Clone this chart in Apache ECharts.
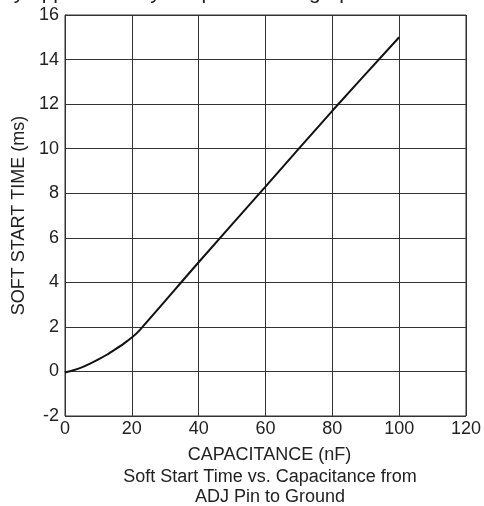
<!DOCTYPE html>
<html>
<head>
<meta charset="utf-8">
<script src="https://cdn.jsdelivr.net/npm/echarts@6/dist/echarts.min.js"></script>
<style>
  html, body { margin: 0; padding: 0; background: #fff; }
  #chart { width: 484px; height: 506px; }
</style>
</head>
<body>
<div id="chart"></div>
<script>
// capacitance (nF) vs soft start time (ms)
var capacitance = [0, 2.5, 5, 7.5, 10, 12.5, 15, 17.5, 20, 22.5, 40, 60, 80, 100];
var softStart = [-0.05, 0.05, 0.18, 0.35, 0.54, 0.75, 0.99, 1.24, 1.52, 1.88, 4.9, 8.3, 11.7, 15.0];
var xTitle = "CAPACITANCE (nF)";
var yTitle = "SOFT START TIME (ms)";
var caption = ["Soft Start Time vs. Capacitance from", "ADJ Pin to Ground"];
var topText = "by approximately 200pS/nF. The graph below shows";

var myChart = echarts.init(document.getElementById("chart"));
var font = "Liberation Sans, Arial, sans-serif";
var option;

option = {
  animation: false,
  backgroundColor: "#fff",
  grid: {
    left: 65,
    right: 17,
    top: 15,
    bottom: 90,
    show: true,
    borderColor: "#333",
    borderWidth: 1,
  },
  xAxis: {
    type: "value",
    min: 0,
    max: 120,
    interval: 20,
    name: xTitle,
    nameLocation: "middle",
    nameGap: 30,
    nameTextStyle: { fontFamily: font, fontSize: 18, color: "#222", padding: [0, 0, 0, 8] },
    axisLine: { show: true, lineStyle: { color: "#333", width: 1 } },
    axisTick: { show: false },
    axisLabel: { fontFamily: font, fontSize: 18, color: "#222", margin: 4 },
    splitLine: { show: true, lineStyle: { color: "#333", width: 1 } },
  },
  yAxis: {
    type: "value",
    min: -2,
    max: 16,
    interval: 2,
    name: yTitle,
    nameLocation: "middle",
    nameGap: 35,
    nameTextStyle: { fontFamily: font, fontSize: 18, color: "#222" },
    axisLine: { show: true, lineStyle: { color: "#333", width: 1 } },
    axisTick: { show: false },
    axisLabel: { fontFamily: font, fontSize: 18, color: "#222", margin: 6 },
    splitLine: { show: true, lineStyle: { color: "#333", width: 1 } },
  },
  series: [
    {
      type: "line",
      data: capacitance.map(function (c, i) { return [c, softStart[i]]; }),
      smooth: 0.3,
      showSymbol: false,
      lineStyle: { color: "#111", width: 2 },
    },
  ],
  graphic: [
    {
      type: "text",
      left: 2,
      top: -17,
      style: { text: topText, font: "21px " + font, fill: "#222" },
    },
    {
      type: "text",
      x: 270,
      y: 477,
      style: { text: caption[0], font: "18px " + font, fill: "#222", textAlign: "center", textVerticalAlign: "middle" },
    },
    {
      type: "text",
      x: 270,
      y: 497,
      style: { text: caption[1], font: "18px " + font, fill: "#222", textAlign: "center", textVerticalAlign: "middle" },
    },
  ],
};

option && myChart.setOption(option);
</script>
</body>
</html>
